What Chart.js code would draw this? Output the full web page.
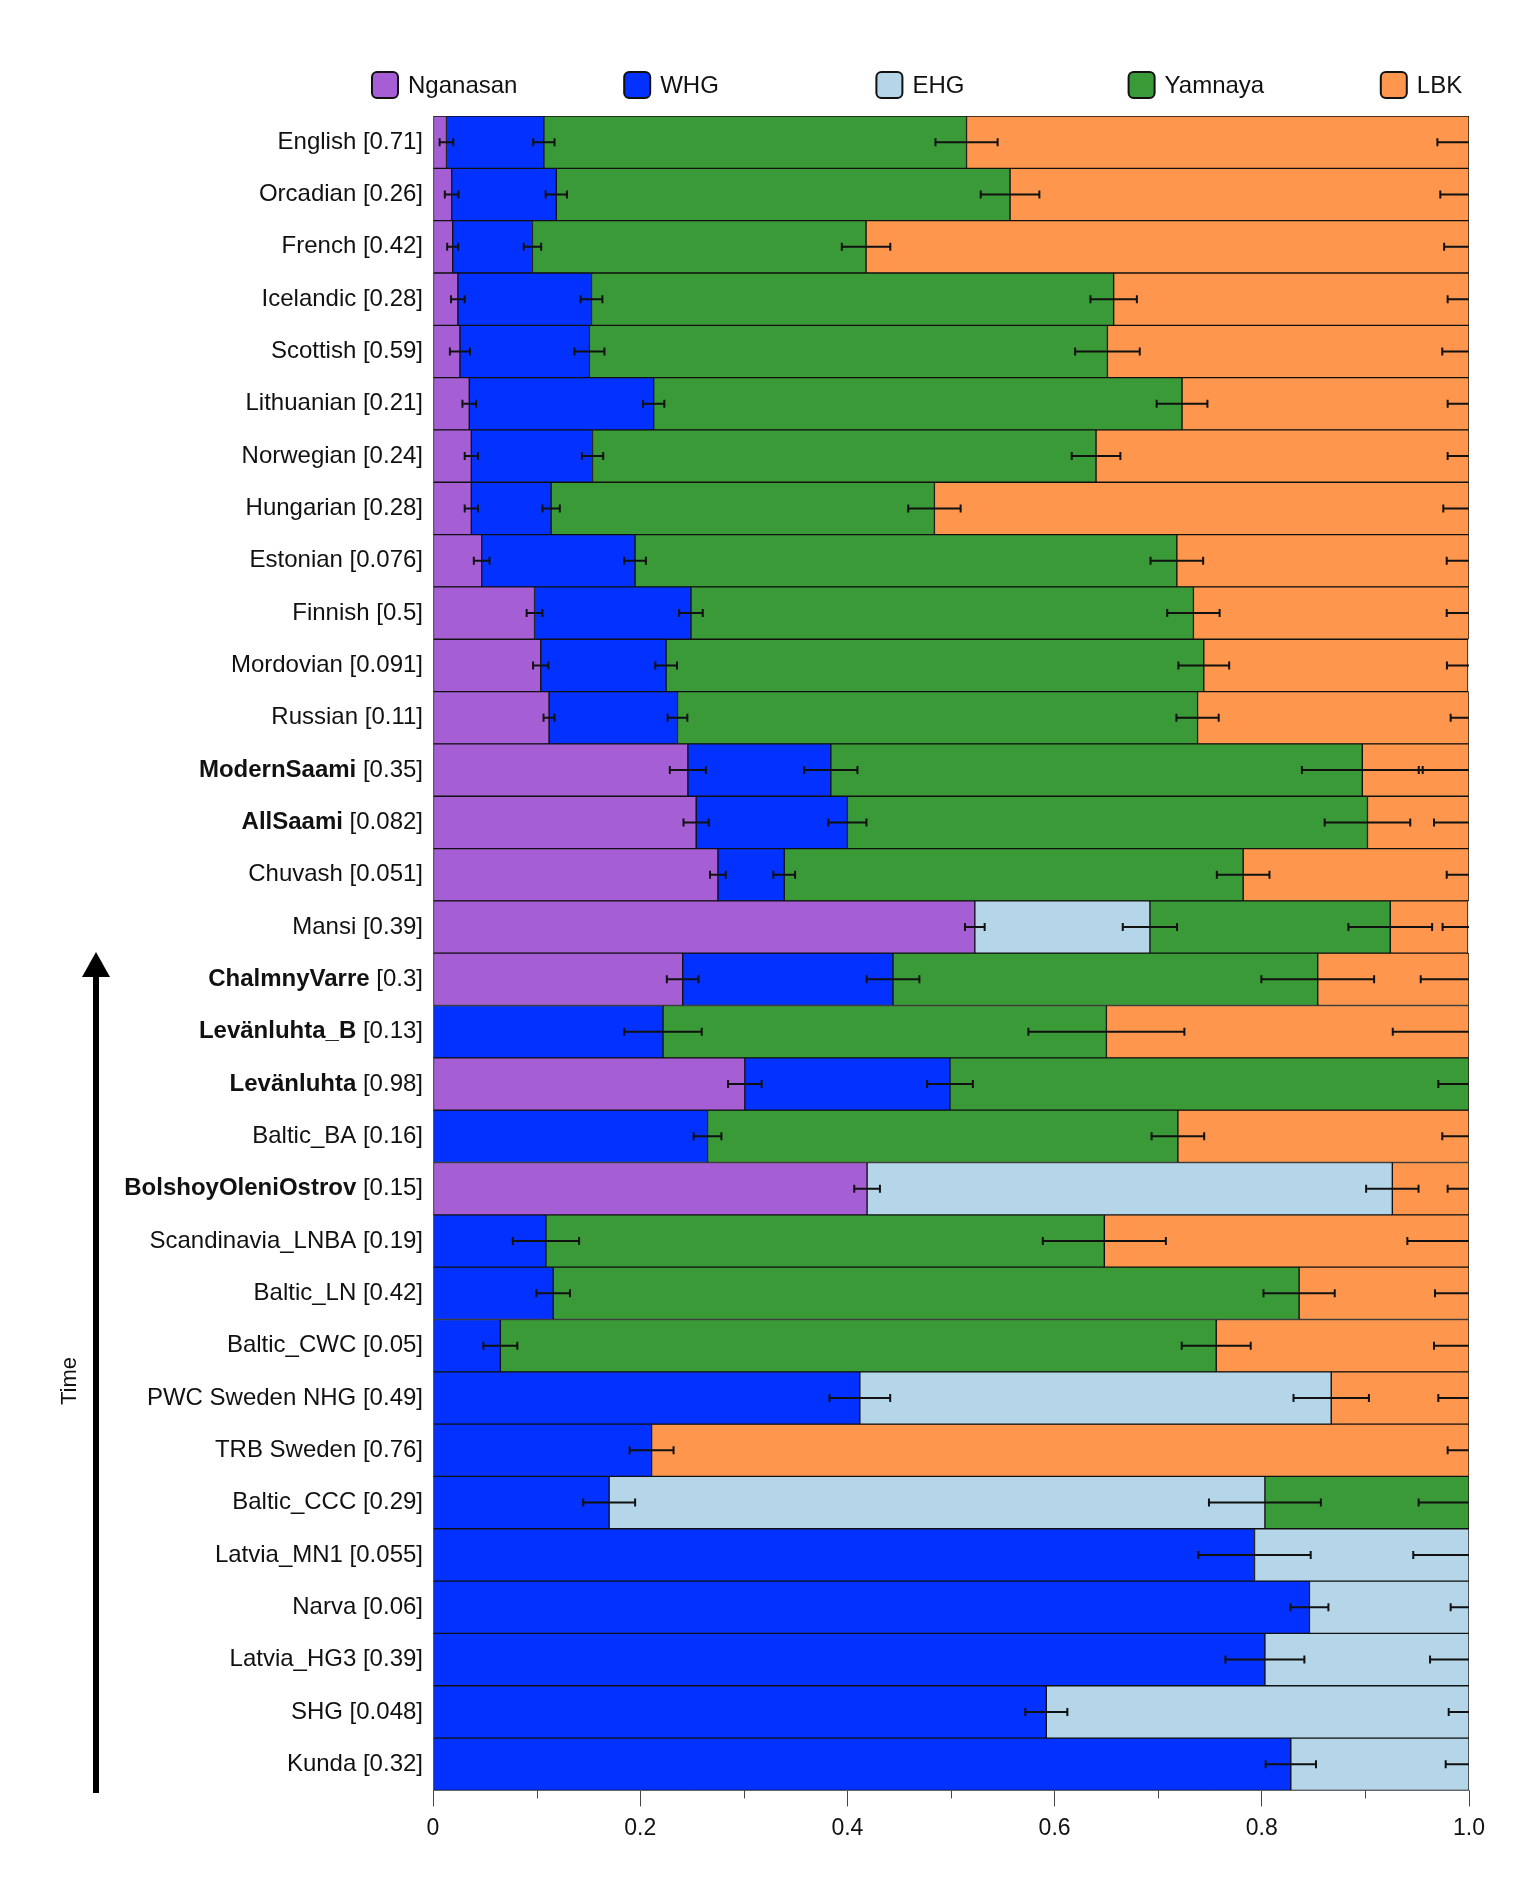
<!DOCTYPE html>
<html lang="en">

<head>
    <meta charset="UTF-8" />
    <title>Ancestry proportions</title>
    <script src="https://cdn.jsdelivr.net/npm/chart.js"></script>
    <style>
        html, body { margin: 0; padding: 0; background: #fff; }
        #chart { display: block; }
    </style>
</head>

<body>
    <canvas id="chart" width="1532" height="1884"></canvas>

    <script>
        // ----------- Data ------------
        const populations = [
            'English', 'Orcadian', 'French', 'Icelandic', 'Scottish', 'Lithuanian', 'Norwegian', 'Hungarian',
            'Estonian', 'Finnish', 'Mordovian', 'Russian', 'ModernSaami', 'AllSaami', 'Chuvash', 'Mansi',
            'ChalmnyVarre', 'Levänluhta_B', 'Levänluhta', 'Baltic_BA', 'BolshoyOleniOstrov', 'Scandinavia_LNBA',
            'Baltic_LN', 'Baltic_CWC', 'PWC Sweden NHG', 'TRB Sweden', 'Baltic_CCC', 'Latvia_MN1', 'Narva',
            'Latvia_HG3', 'SHG', 'Kunda'
        ];
        const pValues = [
            '0.71', '0.26', '0.42', '0.28', '0.59', '0.21', '0.24', '0.28',
            '0.076', '0.5', '0.091', '0.11', '0.35', '0.082', '0.051', '0.39',
            '0.3', '0.13', '0.98', '0.16', '0.15', '0.19',
            '0.42', '0.05', '0.49', '0.76', '0.29', '0.055', '0.06',
            '0.39', '0.048', '0.32'
        ];
        const boldPopulations = ['ModernSaami', 'AllSaami', 'ChalmnyVarre', 'Levänluhta_B', 'Levänluhta', 'BolshoyOleniOstrov'];

        const sources = ['Nganasan', 'WHG', 'EHG', 'Yamnaya', 'LBK'];
        const sourceColors = ['#a55ed3', '#0331ff', '#b4d6e8', '#399a37', '#fe974d'];

        const nganasan = [0.013, 0.018, 0.019, 0.024, 0.026, 0.035, 0.037, 0.037, 0.047, 0.098, 0.104, 0.112, 0.246, 0.254, 0.275, 0.523,
            0.241, null, 0.301, null, 0.419, null, null, null, null, null, null, null, null, null, null, null];
        const whg = [0.094, 0.101, 0.077, 0.129, 0.125, 0.178, 0.117, 0.077, 0.148, 0.151, 0.121, 0.124, 0.138, 0.146, 0.064, null,
            0.203, 0.222, 0.198, 0.265, null, 0.109, 0.116, 0.065, 0.412, 0.211, 0.170, 0.793, 0.846, 0.803, 0.592, 0.828];
        const ehg = [null, null, null, null, null, null, null, null, null, null, null, null, null, null, null, 0.169,
            null, null, null, null, 0.507, null, null, null, 0.455, null, 0.633, 0.207, 0.154, 0.197, 0.408, 0.172];
        const yamnaya = [0.408, 0.438, 0.322, 0.504, 0.500, 0.510, 0.486, 0.370, 0.523, 0.485, 0.519, 0.502, 0.513, 0.502, 0.443, 0.232,
            0.410, 0.428, 0.501, 0.454, null, 0.539, 0.720, 0.691, null, null, 0.197, null, null, null, null, null];
        const lbk = [0.485, 0.443, 0.582, 0.343, 0.349, 0.277, 0.360, 0.516, 0.282, 0.266, 0.255, 0.262, 0.103, 0.098, 0.218, 0.075,
            0.146, 0.350, null, 0.281, 0.074, 0.352, 0.164, 0.244, 0.133, 0.789, null, null, null, null, null, null];

        // standard errors, drawn at the cumulative end of each component
        const nganasanErr = [0.0066, 0.0066, 0.0053, 0.0066, 0.0097, 0.0066, 0.0064, 0.0064, 0.0076, 0.0076, 0.0074, 0.0053, 0.0174, 0.0122, 0.0076, 0.0095,
            0.0153, null, 0.0162, null, 0.0124, null, null, null, null, null, null, null, null, null, null, null];
        const whgErr = [0.0103, 0.0103, 0.0084, 0.0105, 0.0145, 0.0103, 0.0103, 0.0084, 0.0105, 0.0114, 0.0105, 0.0095, 0.0257, 0.0184, 0.0105, null,
            0.0255, 0.0374, 0.0221, 0.0134, null, 0.032, 0.0162, 0.0164, 0.0293, 0.0212, 0.0251, 0.0542, 0.0183, 0.0381, 0.0203, 0.0243];
        const ehgErr = [null, null, null, null, null, null, null, null, null, null, null, null, null, null, null, 0.0262,
            null, null, null, null, 0.0253, null, null, null, 0.0364, null, 0.054, 0.0538, 0.0177, 0.0376, 0.0196, 0.0225];
        const yamnayaErr = [0.030, 0.0283, 0.0234, 0.0224, 0.0312, 0.0245, 0.0235, 0.0253, 0.0254, 0.0253, 0.0245, 0.0204, 0.0583, 0.0413, 0.0254, 0.0404,
            0.0544, 0.0753, 0.0296, 0.0254, null, 0.0594, 0.0344, 0.0333, null, null, 0.0486, null, null, null, null, null];
        const lbkErr = [0.0305, 0.0277, 0.024, 0.0206, 0.0258, 0.0206, 0.0206, 0.0248, 0.0215, 0.0215, 0.0203, 0.0177, 0.0485, 0.0338, 0.0215, 0.0245,
            0.0466, 0.0736, null, 0.0258, 0.0206, 0.0595, 0.0328, 0.0338, 0.0296, 0.0206, null, null, null, null, null, null];

        const xTickLabels = ['0', '', '0.2', '', '0.4', '', '0.6', '', '0.8', '', '1.0'];

        const seriesValues = [nganasan, whg, ehg, yamnaya, lbk];
        const seriesErrors = [nganasanErr, whgErr, ehgErr, yamnayaErr, lbkErr];

        const FONT = '"Liberation Sans", Arial, Helvetica, sans-serif';

        // ----------- Plugins ------------
        const errorBars = {
            id: 'errorBars',
            afterDatasetsDraw(chart) {
                const { ctx, chartArea: a, scales: { x, y } } = chart;
                ctx.save();
                ctx.beginPath();
                ctx.rect(a.left, a.top, a.right - a.left, a.bottom - a.top);
                ctx.clip();
                ctx.strokeStyle = '#111';
                ctx.lineWidth = 2;
                populations.forEach((_, i) => {
                    const yc = y.getPixelForValue(i);
                    let cum = 0;
                    seriesValues.forEach((vals, d) => {
                        const v = vals[i];
                        if (v == null) return;
                        cum += v;
                        const e = seriesErrors[d][i];
                        if (e == null) return;
                        const x0 = x.getPixelForValue(cum - e);
                        const x1 = x.getPixelForValue(cum + e);
                        ctx.beginPath();
                        ctx.moveTo(x0, yc); ctx.lineTo(x1, yc);
                        ctx.moveTo(x0, yc - 4); ctx.lineTo(x0, yc + 4);
                        ctx.moveTo(x1, yc - 4); ctx.lineTo(x1, yc + 4);
                        ctx.stroke();
                    });
                });
                ctx.restore();
            }
        };

        const decorations = {
            id: 'decorations',
            afterDraw(chart) {
                const { ctx, chartArea: a, scales: { x, y } } = chart;
                ctx.save();
                ctx.fillStyle = '#111';
                ctx.textBaseline = 'middle';

                // row labels, name bold for ancient Saami-related groups
                const labelRight = a.left - 10;
                populations.forEach((name, i) => {
                    const yc = y.getPixelForValue(i);
                    const suffix = ' [' + pValues[i] + ']';
                    ctx.font = '24px ' + FONT;
                    ctx.textAlign = 'right';
                    ctx.fillText(suffix, labelRight, yc);
                    const w = ctx.measureText(suffix).width;
                    ctx.font = (boldPopulations.includes(name) ? 'bold ' : '') + '24px ' + FONT;
                    ctx.fillText(name, labelRight - w, yc);
                });

                // legend
                ctx.textAlign = 'left';
                ctx.font = '24px ' + FONT;
                chart.data.datasets.forEach((ds, d) => {
                    const bx = 372 + d * 252.2, by = 72;
                    ctx.beginPath();
                    ctx.roundRect(bx, by, 26, 26, 5);
                    ctx.fillStyle = ds.backgroundColor;
                    ctx.fill();
                    ctx.lineWidth = 2;
                    ctx.strokeStyle = '#111';
                    ctx.stroke();
                    ctx.fillStyle = '#111';
                    ctx.fillText(ds.label, bx + 36, by + 14);
                });

                // minor ticks
                ctx.strokeStyle = '#444';
                ctx.lineWidth = 1;
                xTickLabels.forEach((lab, i) => {
                    if (lab !== '') return;
                    const px = Math.round(x.getPixelForValue(i / 10)) + 0.5;
                    ctx.beginPath();
                    ctx.moveTo(px, a.bottom);
                    ctx.lineTo(px, a.bottom + 8);
                    ctx.stroke();
                });

                // time arrow
                ctx.fillStyle = '#000';
                ctx.fillRect(93, 974, 6, 819);
                ctx.beginPath();
                ctx.moveTo(96, 952);
                ctx.lineTo(82, 977);
                ctx.lineTo(110, 977);
                ctx.closePath();
                ctx.fill();

                ctx.translate(70, 1381);
                ctx.rotate(-Math.PI / 2);
                ctx.textAlign = 'center';
                ctx.fillStyle = '#111';
                ctx.font = '22px ' + FONT;
                ctx.fillText('Time', 0, 0);
                ctx.restore();
            }
        };

        // ----------- Chart ------------
        const chart = new Chart(document.getElementById('chart').getContext('2d'), {
            type: 'bar',
            data: {
                labels: populations.map((p, i) => p + ' [' + pValues[i] + ']'),
                datasets: sources.map((s, d) => ({
                    label: s,
                    data: seriesValues[d],
                    backgroundColor: sourceColors[d],
                    borderColor: '#111',
                    borderWidth: 1,
                    borderSkipped: false,
                    barPercentage: 1,
                    categoryPercentage: 1
                }))
            },
            options: {
                indexAxis: 'y',
                responsive: false,
                animation: false,
                layout: { padding: { left: 433, right: 63, top: 116, bottom: 34 } },
                scales: {
                    x: {
                        stacked: true,
                        min: 0,
                        max: 1,
                        grid: {
                            drawOnChartArea: false,
                            tickLength: 16,
                            tickColor: c => (xTickLabels[c.index] ? '#444' : 'rgba(0,0,0,0)')
                        },
                        border: { color: '#888' },
                        ticks: {
                            stepSize: 0.1,
                            autoSkip: false,
                            maxRotation: 0,
                            padding: 8,
                            color: '#111',
                            font: { family: FONT, size: 23 },
                            callback: (v, i) => xTickLabels[i]
                        }
                    },
                    y: {
                        stacked: true,
                        display: false
                    }
                },
                plugins: {
                    legend: { display: false },
                    tooltip: { enabled: false }
                }
            },
            plugins: [errorBars, decorations]
        });
    </script>
</body>

</html>
